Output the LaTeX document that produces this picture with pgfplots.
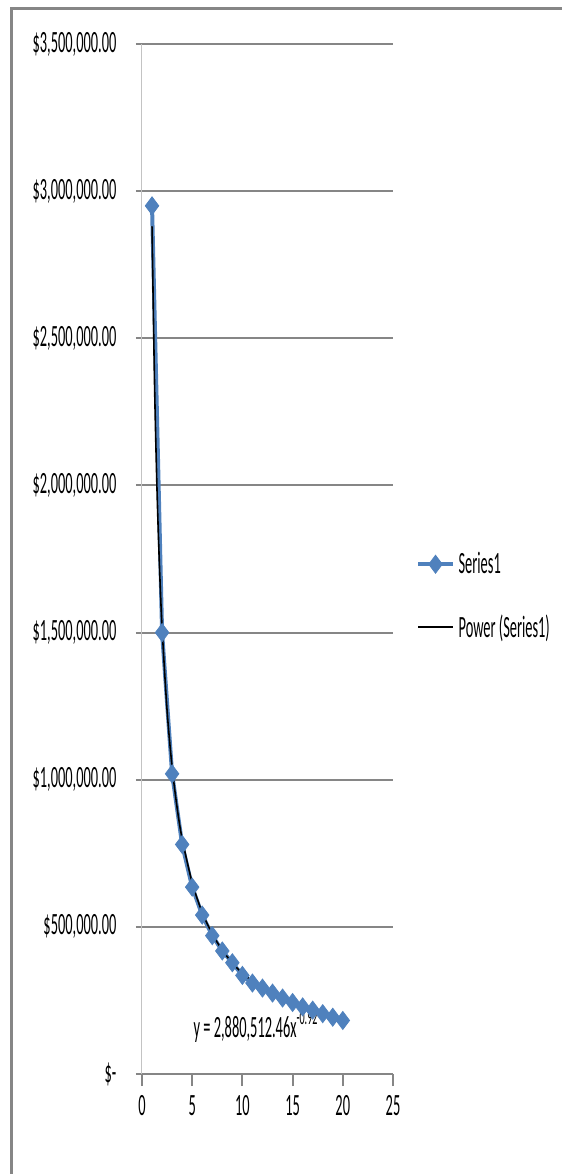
\documentclass[border=0pt]{standalone}
\usepackage{fontspec}
\setmainfont{Carlito}
\usepackage{graphicx}
\usepackage{pgfplots}
\pgfplotsset{compat=1.18}

\definecolor{xlblue}{RGB}{79,129,189}
\definecolor{xlgrid}{RGB}{134,134,134}
\definecolor{xlaxis}{RGB}{195,195,195}
% Excel text looks squeezed, so stretch it upward
\newcommand{\vs}[1]{\scalebox{1}[2.15]{#1}}
\newcommand{\xlfont}{\fontsize{7.2}{7.2}\selectfont}

\begin{document}
\begin{tikzpicture}
\useasboundingbox (-71pt,-50pt) rectangle (210pt,537pt);
% chart frame (runs off the right and bottom edges)
\draw[xlgrid, line width=1.5pt] (-65pt,-80pt) -- (-65pt,532.5pt) -- (240pt,532.5pt);
\begin{axis}[
  at={(0,0)}, anchor=south west,
  scale only axis, width=125.5pt, height=515pt,
  xmin=0, xmax=25, ymin=0, ymax=3500000,
  axis x line=bottom, axis y line=left,
  x axis line style={xlgrid, line width=1pt, -},
  y axis line style={xlaxis, line width=0.5pt, -},
  xtick={0,5,10,15,20,25},
  xticklabels={\vs{0},\vs{5},\vs{10},\vs{15},\vs{20},\vs{25}},
  ytick={0,500000,1000000,1500000,2000000,2500000,3000000,3500000},
  yticklabels={{\vs{\$-}},{\vs{\$500,000.00}},{\vs{\$1,000,000.00}},{\vs{\$1,500,000.00}},
    {\vs{\$2,000,000.00}},{\vs{\$2,500,000.00}},{\vs{\$3,000,000.00}},{\vs{\$3,500,000.00}}},
  scaled y ticks=false,
  tick align=outside,
  xtick style={xlgrid, line width=1pt, /pgfplots/major tick length=6pt},
  ytick style={xlgrid, line width=1pt, /pgfplots/major tick length=3pt},
  ymajorgrids, major grid style={xlgrid, line width=1pt},
  tick label style={font=\xlfont},
  yticklabel style={anchor=east, xshift=-5pt},
  xticklabel style={yshift=-3pt},
  legend style={draw=none, fill=none, at={(1.068,0.464)}, anchor=west,
    row sep=15pt, font=\xlfont},
  legend cell align=left,
  clip=false,
]

% Power trendline label
\node[anchor=west, inner sep=0pt, font=\xlfont]
  at (axis cs:5.1,160000) {\vs{y = 2,880,512.46x\textsuperscript{-0.92}}};

\addplot[xlblue, line width=2pt, mark=diamond*, mark size=4.5pt,
  mark options={solid, fill=xlblue, draw=xlblue, line width=0.4pt}] coordinates {
(1,2950000) (2,1500000) (3,1020000) (4,780000) (5,635000)
(6,540000) (7,470000) (8,418000) (9,378000) (10,335000)
(11,309000) (12,292000) (13,275000) (14,258000) (15,243000)
(16,228000) (17,217000) (18,205000) (19,193000) (20,182000)
};
\addlegendentry{\vs{Series1}}

% Power (Series1)
\addplot[black, line width=0.8pt, smooth, no marks] coordinates {
(1,2880512) (1.25,2343300) (1.5,1979500) (1.75,1716800) (2,1517200)
(2.5,1234300) (3,1042800) (3.5,904200) (4,799100) (5,650100)
(6,549000) (7,476200) (8,420800) (9,377400) (10,342500)
(12,289300) (14,250800) (16,221700) (18,198800) (20,180300)
};
\addlegendentry{\vs{Power (Series1)}}

\end{axis}
\end{tikzpicture}
\end{document}
